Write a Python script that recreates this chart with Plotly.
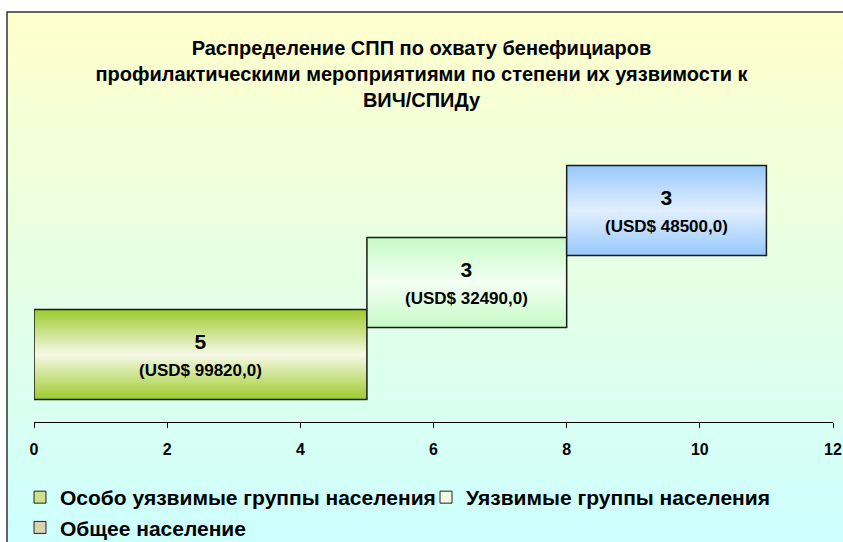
import base64
import plotly.graph_objects as go

# ---- data ----
categories = ["Особо уязвимые группы населения", "Уязвимые группы населения", "Общее население"]
counts = [5, 3, 3]
amounts_usd = [99820.0, 32490.0, 48500.0]
title_text = ("Распределение СПП по охвату бенефициаров<br>"
              "профилактическими мероприятиями по степени их уязвимости к<br>"
              "ВИЧ/СПИДу")
x_ticks = [0, 2, 4, 6, 8, 10, 12]

# ---- styles ----
FONT = "Liberation Sans, Arial, sans-serif"
box_edge = ["#9ccb2c", "#c6fbc6", "#96c8fc"]
box_mid = ["#f6f9e6", "#f4fff4", "#e2efff"]
legend_sw = ["#cfe08a", "#f2fbe2", "#d8d4b0"]
BOX_H = 1.25

W, H = 843, 542
ML, MR, MT, MB = 34, 10, 140, 120
pw, ph = W - ML - MR, H - MT - MB

fig = go.Figure()

bases = []
acc = 0
for c in counts:
    bases.append(acc)
    acc += c

for i, (name, c, b) in enumerate(zip(categories, counts, bases)):
    x0, x1 = b, b + c
    y0, y1 = i - BOX_H / 2, i + BOX_H / 2
    fig.add_trace(go.Scatter(
        x=[x0, x1, x1, x0, x0], y=[y0, y0, y1, y1, y0],
        mode="lines", fill="toself",
        fillgradient=dict(type="vertical",
                          colorscale=[[0, box_edge[i]], [0.5, box_mid[i]], [1, box_edge[i]]]),
        line=dict(color="#1a1a1a", width=1.5),
        showlegend=False, hoverinfo="skip",
    ))
    amt = f"{amounts_usd[i]:.1f}".replace(".", ",")
    fig.add_annotation(
        x=(x0 + x1) / 2, y=i, xref="x", yref="y", showarrow=False,
        text=f"<b>{c}</b><br><span style='font-size:17px'><b>(USD$ {amt})</b></span>",
        font=dict(family=FONT, size=21, color="#000"),
    )

for i, name in enumerate(categories):
    fig.add_trace(go.Scatter(
        x=[None], y=[None], mode="markers", name=name,
        marker=dict(symbol="square", size=12, color=legend_sw[i],
                    line=dict(color="#222", width=1)),
    ))

# background gradient inside frame
svg = ('<svg xmlns="http://www.w3.org/2000/svg" width="100" height="100" preserveAspectRatio="none">'
       '<defs><linearGradient id="g" x1="0" y1="0" x2="0" y2="1">'
       '<stop offset="0" stop-color="#ffffcc"/><stop offset="1" stop-color="#ccffff"/>'
       '</linearGradient></defs><rect width="100" height="100" fill="url(#g)"/></svg>')
src = "data:image/svg+xml;base64," + base64.b64encode(svg.encode()).decode()

def px_x(p):
    return (p - ML) / pw

def px_y(p):
    return (H - MB - p) / ph

fx0, fy0 = 7, 12
fig.add_layout_image(dict(
    source=src, xref="paper", yref="paper",
    x=px_x(fx0), y=px_y(fy0), sizex=(W + 10 - fx0) / pw, sizey=(H + 10 - fy0) / ph,
    xanchor="left", yanchor="top", sizing="stretch", layer="below",
))
fig.add_shape(type="rect", xref="paper", yref="paper",
              x0=px_x(fx0), y0=px_y(H + 10), x1=px_x(W + 10), y1=px_y(fy0),
              line=dict(color="#333", width=1.5), layer="below")

y_bottom = 0 - (422 - 354.5) / 72
y_top = 0 + (354.5 - 140) / 72

fig.update_layout(
    width=W, height=H,
    margin=dict(l=ML, r=MR, t=MT, b=MB, autoexpand=False),
    paper_bgcolor="white", plot_bgcolor="rgba(0,0,0,0)",
    title=dict(text=f"<b>{title_text}</b>", x=0.5, xanchor="center", y=1 - 55 / H, yanchor="top",
               font=dict(family=FONT, size=20, color="#000")),
    xaxis=dict(range=[0, 12], tickvals=x_ticks, ticktext=[f"<b>{t}</b>" for t in x_ticks],
               showgrid=False, zeroline=False, showline=True, linecolor="#000", linewidth=1,
               ticks="outside", ticklen=5, tickcolor="#000", ticklabelstandoff=8,
               tickfont=dict(family=FONT, size=16, color="#000"), fixedrange=True),
    yaxis=dict(range=[y_bottom, y_top], visible=False, fixedrange=True),
    legend=dict(orientation="h", x=px_x(20), xanchor="left", y=px_y(477), yanchor="top",
                font=dict(family=FONT, size=21, color="#000", weight="bold"),
                bgcolor="rgba(0,0,0,0)", itemwidth=30, tracegroupgap=0,
                entrywidth=361, entrywidthmode="pixels"),
    showlegend=True,
)

fig.write_html("out.html", config={"displayModeBar": False},
               post_script="document.body.style.margin='0';")
